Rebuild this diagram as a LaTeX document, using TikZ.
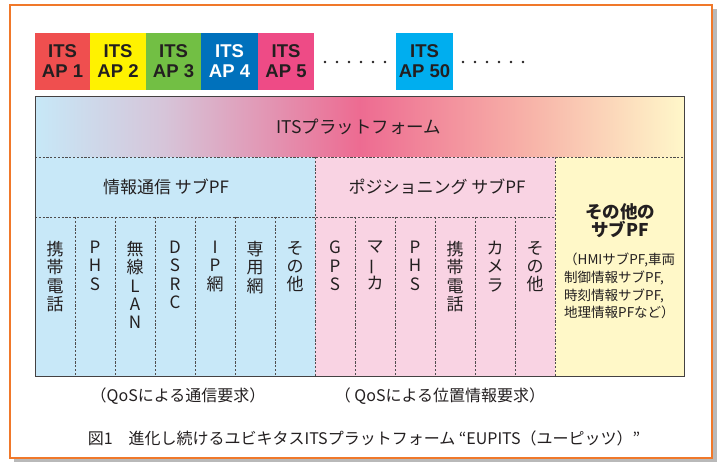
\documentclass[tikz,border=0pt]{standalone}
\usepackage{fontspec}
\usepackage{graphicx}
\setmainfont{Noto Sans CJK JP}
\newfontfamily\apfont{Liberation Sans}
\definecolor{frameor}{HTML}{F0782A}
\definecolor{apred}{HTML}{EF4F4F}
\definecolor{apyellow}{HTML}{FFF200}
\definecolor{apgreen}{HTML}{72BF44}
\definecolor{apblue}{HTML}{0071BC}
\definecolor{appink}{HTML}{EE4B86}
\definecolor{apcyan}{HTML}{00AEEF}
\definecolor{infobg}{HTML}{C8E8F8}
\definecolor{posbg}{HTML}{F9D3E3}
\definecolor{othbg}{HTML}{FFF8C8}
\definecolor{ink}{HTML}{231F20}
\pgfdeclarehorizontalshading{bandshade}{100bp}{%
  rgb(0bp)=(0.78,0.91,0.97);
  rgb(25bp)=(0.78,0.91,0.97);
  rgb(35bp)=(0.84,0.77,0.85);
  rgb(50bp)=(0.93,0.42,0.57);
  rgb(63bp)=(0.97,0.70,0.66);
  rgb(75bp)=(1.0,0.97,0.79);
  rgb(100bp)=(1.0,0.97,0.79)}
\tikzset{
  apbox/.style={minimum width=56pt, minimum height=57pt, inner sep=0pt, align=center,
    font=\apfont\bfseries\fontsize{18.5}{20}\selectfont, text=ink},
  vcol/.style={anchor=north, inner sep=0pt, align=center, text=ink,
    font=\fontsize{17}{18.3}\selectfont},
  dline/.style={draw=ink!80, dashed, dash pattern=on 2.2pt off 1.6pt, line width=0.8pt},
  lbl/.style={inner sep=0pt, text=ink},
}
\begin{document}
\begin{tikzpicture}[x=1pt,y=-1pt]
\useasboundingbox (0,0) rectangle (720,462);
% frame with shadow
\fill[gray!55] (14,9) rectangle (717,462);
\fill[white] (10,5) rectangle (712,458);
\draw[frameor, line width=2.6pt] (10,5) rectangle (712,458);
% AP boxes
\node[apbox, fill=apred] (ap1) at (62.5,61.5) {ITS\\AP 1};
\node[apbox, fill=apyellow] (ap2) at (118,61.5) {ITS\\AP 2};
\node[apbox, fill=apgreen] (ap3) at (173.5,61.5) {ITS\\AP 3};
\node[apbox, fill=apblue, minimum width=57pt, text=white] (ap4) at (229.5,61.5) {ITS\\AP 4};
\node[apbox, fill=appink] (ap5) at (286,61.5) {ITS\\AP 5};
\node[apbox, fill=apcyan, minimum width=57pt] (ap50) at (424.5,61.5) {ITS\\AP 50};
\foreach \x in {325,337,349,361,373,385,463,475,487,499,511,523}
  \fill[ink] (\x,62) circle (1.4pt);
% main box fills
\shade[shading=bandshade] (35,97) rectangle (684,157);
\fill[infobg] (35,157) rectangle (315,376);
\fill[posbg] (315,157) rectangle (555,376);
\fill[othbg] (555,157) rectangle (684,376);
% dashed separators
\draw[dline] (35,157) -- (684,157);
\draw[dline] (35,217) -- (555,217);
\draw[dline] (315,157) -- (315,376);
\draw[dline] (555,157) -- (555,376);
\foreach \x in {75,115,155,195,235,275,355,395,435,475,515}
  \draw[dline] (\x,217) -- (\x,376);
\draw[ink!85, line width=1pt] (35,97) rectangle (684,376);
% texts
\node[lbl, font=\fontsize{17.5}{20}\selectfont] (itspf) at (359,127) {ITSプラットフォーム};
\node[lbl, font=\fontsize{17}{20}\selectfont] (info) at (166,187) {情報通信 サブPF};
\node[lbl, font=\fontsize{17}{20}\selectfont] (pos) at (437,187) {ポジショニング サブPF};
\node[lbl, align=center, font=\bfseries\fontsize{17.5}{18}\selectfont] (oth) at (620,221) {その他の\\サブPF};
\node[lbl, align=left, anchor=north west, font=\fontsize{13.5}{17.7}\selectfont] (othd) at (564,253)
  {（HMIサブPF,車両\\制御情報サブPF,\\時刻情報サブPF,\\地理情報PFなど）};
% vertical columns
\node[vcol] (c1) at (55,241) {携\\帯\\電\\話};
\node[vcol] (c2) at (95,241) {P\\H\\S};
\node[vcol] (c3) at (135,241) {無\\線\\L\\A\\N};
\node[vcol] (c4) at (175,241) {D\\S\\R\\C};
\node[vcol] (c5) at (215,241) {I\\P\\網};
\node[vcol] (c6) at (255,241) {専\\用\\網};
\node[vcol] (c7) at (295,241) {そ\\の\\他};
\node[vcol] (c8) at (335,241) {G\\P\\S};
\node[vcol] (c9) at (375,241) {マ\\\rotatebox[origin=c]{90}{ー}\\カ};
\node[vcol] (c10) at (415,241) {P\\H\\S};
\node[vcol] (c11) at (455,241) {携\\帯\\電\\話};
\node[vcol] (c12) at (495,241) {カ\\メ\\ラ};
\node[vcol] (c13) at (535,241) {そ\\の\\他};
% bottom labels
\node[lbl, font=\fontsize{16}{20}\selectfont] (q1) at (178,396) {（QoSによる通信要求）};
\node[lbl, font=\fontsize{16}{20}\selectfont] (q2) at (440,396) {（ QoSによる位置情報要求）};
\node[lbl, font=\fontsize{16}{20}\selectfont] (cap) at (364,438) {図1\quad 進化し続けるユビキタスITSプラットフォーム “EUPITS（ユーピッツ）”};
\end{tikzpicture}
\end{document}
